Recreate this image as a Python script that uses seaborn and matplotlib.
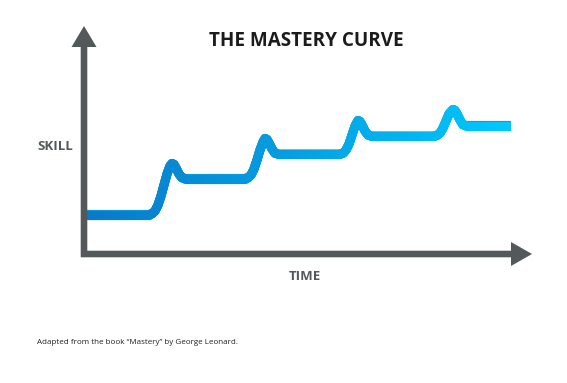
import numpy as np
import pandas as pd
import matplotlib
matplotlib.use("Agg")
import matplotlib.pyplot as plt
import seaborn as sns
from matplotlib.collections import LineCollection
from matplotlib.patches import Polygon, Rectangle

# ---- data (arbitrary units: time, skill) ----
time = [3, 65, 68, 71, 74, 77, 80, 83, 86, 88, 90, 92, 95, 98, 101,
        161, 164, 167, 170, 173, 176, 179, 181, 183, 185, 188, 191, 194,
        256, 259, 262, 265, 268, 271, 274, 276, 278, 281, 284, 287,
        350, 353, 356, 359, 362, 365, 369, 371, 373, 376, 379, 382,
        427]
skill = [39.5, 39.5, 40.2, 43, 49, 58, 69, 80, 88, 90.5, 89.5, 86, 80, 76.2, 75.5,
         75.5, 76.2, 79, 85, 94, 104, 112, 115.5, 114.5, 111, 105, 100.7, 100,
         100, 100.7, 104, 110, 119, 128, 133.5, 132.5, 129, 123, 119, 118,
         118, 118.5, 121, 126, 133, 140, 144.5, 143.5, 140, 134, 129.2, 128.5,
         128.5]

title = "THE MASTERY CURVE"
y_label = "SKILL"
x_label = "TIME"
footnote = "Adapted from the book \u201cMastery\u201d by George Leonard."

# ---- styling ----
sns.set_theme(style="white")
plt.rcParams["font.family"] = ["Open Sans", "DejaVu Sans"]
GRAY = "#53585b"
C_START, C_END = "#0a78c8", "#00c8fc"

W, H, DPI = 567, 383, 100
fig = plt.figure(figsize=(W / DPI, H / DPI), dpi=DPI)
fig.patch.set_facecolor("white")

# axes origin at pixel (84, 254); 1 data unit = 1 pixel
ox, oy = 84, 254
xmax, ymax = 448, 228
ax = fig.add_axes([ox / W, (H - oy) / H, xmax / W, ymax / H])
ax.set_xlim(0, xmax)
ax.set_ylim(0, ymax)
ax.axis("off")

df = pd.DataFrame({"time": time, "skill": skill})
LW = 6.6
sns.lineplot(data=df, x="time", y="skill", sort=False, estimator=None,
             color="#00a0e4", lw=LW, solid_capstyle="butt",
             solid_joinstyle="round", ax=ax, legend=False)

# gradient overlay (colour varies along x)
pts = np.column_stack([time, skill])
segs = []
for a, b in zip(pts[:-1], pts[1:]):
    n = max(1, int(np.ceil(np.hypot(*(b - a)) / 2.0)))
    for k in range(n):
        segs.append([a + (b - a) * k / n, a + (b - a) * (k + 1) / n])
segs = np.array(segs)
cmap = sns.blend_palette([C_START, C_END], as_cmap=True)
mid = segs[:, :, 0].mean(axis=1)
cols = cmap((mid - min(time)) / (max(time) - min(time)))
lc = LineCollection(segs, colors=cols, linewidths=LW, capstyle="round",
                    joinstyle="round", zorder=3)
ax.add_collection(lc)
lc.set_clip_path(Rectangle((0, 0), max(time), ymax, transform=ax.transData))

# ---- axis arrows (single L-shaped outline) ----
hw = 3.3
axes_shape = Polygon([(-hw, -hw), (427, -hw), (427, -12), (448, 0), (427, 12),
                      (427, hw), (hw, hw), (hw, 207), (12.5, 207), (0, 228),
                      (-12.5, 207), (-hw, 207)], closed=True, color=GRAY,
                     clip_on=False, zorder=5, lw=0)
ax.add_patch(axes_shape)

# ---- texts (figure pixel coords, origin top-left) ----
def fx(px):
    return px / W

def fy(py):
    return 1 - py / H

fig.text(fx(306), fy(41), title, ha="center", va="center", fontsize=13.6,
         fontweight="bold", color="#1c1c1c")
fig.text(fx(55), fy(147), y_label, ha="center", va="center", fontsize=9.5,
         fontweight="bold", color=GRAY)
fig.text(fx(305), fy(276), x_label, ha="center", va="center", fontsize=9.5,
         fontweight="bold", color=GRAY)
fig.text(fx(37), fy(342), footnote, ha="left", va="center", fontsize=5.8,
         color="#222222")

fig.savefig("out.png", dpi=DPI, facecolor="white")
